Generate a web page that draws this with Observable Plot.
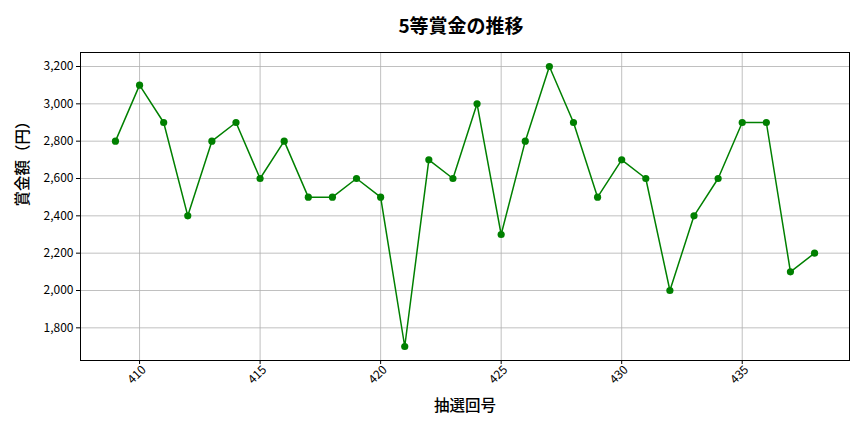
<!DOCTYPE html>
<html><head><meta charset="utf-8">
<script src="https://cdn.jsdelivr.net/npm/d3@7"></script>
<script src="https://cdn.jsdelivr.net/npm/@observablehq/plot@0.6"></script>
<style>
body{margin:0;background:#fff;font-family:"Noto Sans CJK JP","Noto Sans",sans-serif;}
#wrap{position:relative;width:864px;height:432px;}
#title{position:absolute;top:11px;left:0;width:922px;text-align:center;font-size:19px;line-height:28px;font-weight:bold;color:#000;font-family:"Noto Sans CJK JP",sans-serif;}
</style></head><body>
<div id="wrap"><div id="title">5等賞金の推移</div></div>
<script>
const draws = [409,410,411,412,413,414,415,416,417,418,419,420,421,422,423,424,425,426,427,428,429,430,431,432,433,434,435,436,437,438];
const prizes = [2800,3100,2900,2400,2800,2900,2600,2800,2500,2500,2600,2500,1700,2700,2600,3000,2300,2800,3200,2900,2500,2700,2600,2000,2400,2600,2900,2900,2100,2200];
const xTicks = [410,415,420,425,430,435];
const yTicks = [1800,2000,2200,2400,2600,2800,3000,3200];
const data = draws.map((d,i)=>({draw:d, prize:prizes[i]}));
const fmt = d3.format(",");
const chart = Plot.plot({
  width:864, height:432,
  marginTop:52, marginBottom:72, marginLeft:80, marginRight:15,
  style:{fontFamily:"'Noto Sans CJK JP','Noto Sans',sans-serif", fontSize:"12px", color:"#000", background:"#fff"},
  x:{domain:[407.55,439.45], ticks:xTicks},
  y:{domain:[1625,3275], ticks:yTicks},
  marks:[
    Plot.gridX(xTicks,{stroke:"#b0b0b0", strokeOpacity:1, strokeWidth:0.8}),
    Plot.gridY(yTicks,{stroke:"#b0b0b0", strokeOpacity:1, strokeWidth:0.8}),
    Plot.frame({stroke:"#000", strokeWidth:1}),
    Plot.axisY(yTicks,{tickFormat:fmt, tickSize:4, tickPadding:3, label:null, fontSize:12}),
    Plot.axisX(xTicks,{tickFormat:()=>"", tickSize:4, label:null}),
    Plot.text(xTicks,{x:d=>d, frameAnchor:"bottom", dy:17, rotate:-45, textAnchor:"middle", text:d=>String(d), fontSize:12}),
    Plot.text(["賞金額（円）"],{frameAnchor:"left", dx:-57, rotate:-90, fontSize:15.5, fontWeight:500}),
    Plot.text(["抽選回号"],{frameAnchor:"bottom", dy:50, fontSize:15.5, fontWeight:500}),
    Plot.line(data,{x:"draw", y:"prize", stroke:"#008000", strokeWidth:1.5}),
    Plot.dot(data,{x:"draw", y:"prize", fill:"#008000", r:3.6})
  ]
});
document.getElementById("wrap").appendChild(chart);
</script>
</body></html>
